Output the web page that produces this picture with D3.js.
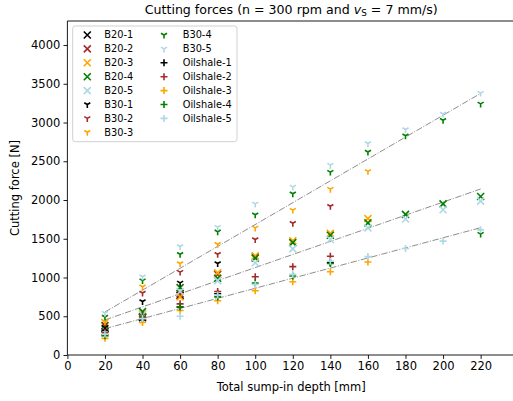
<!DOCTYPE html>
<html>
<head>
<meta charset="utf-8">
<script src="https://cdn.jsdelivr.net/npm/d3@7"></script>
<style>
body { margin: 0; background: #fff; }
svg { display: block; font-family: "DejaVu Sans", sans-serif; }
</style>
</head>
<body>
<div id="chart"></div>
<script>
// sump-in depths [mm], one column per value in every series below (null = no measurement)
const depth = [20, 40, 60, 80, 100, 120, 140, 160, 180, 200, 220];

const b20_1 = [340, 480, 770, null, null, null, null, null, null, null, null];
const b20_2 = [300, 500, 790, 1040, 1265, null, null, null, null, null, null];
const b20_3 = [420, 530, 750, 1060, 1280, 1475, 1570, 1760, null, null, null];
const b20_4 = [380, 560, 870, 990, 1250, 1450, 1545, 1705, 1815, 1950, 2045];
const b20_5 = [280, 520, 820, 960, 1190, 1370, 1490, 1640, 1755, 1875, 1985];
const b30_1 = [360, 690, 930, 1180, null, null, null, null, null, null, null];
const b30_2 = [390, 800, 1070, 1300, 1490, 1700, 1920, null, null, null, null];
const b30_3 = [430, 880, 1180, 1430, 1640, 1870, 2140, 2370, null, null, null];
const b30_4 = [490, 960, 1300, 1590, 1810, 2080, 2360, 2620, 2830, 3030, 3240];
const b30_4b = [null, null, null, null, null, null, null, null, null, null, 1560];
const b30_5 = [540, 1010, 1400, 1650, 1950, 2170, 2450, 2730, 2910, 3110, 3380];
const oil_1 = [320, 470, 620, 790, null, null, 1190, null, null, null, null];
const oil_2 = [290, 500, 660, 820, 1010, 1140, 1275, null, null, null, null];
const oil_3 = [215, 420, 575, 700, 830, 945, 1075, 1200, null, null, null];
const oil_4 = [250, 480, 620, 750, 930, 1020, 1180, null, null, null, null];
const oil_5 = [270, 470, 500, 775, 910, 1040, 1210, 1270, 1375, 1470, 1615];

const seriesNames = ["B20-1", "B20-2", "B20-3", "B20-4", "B20-5",
                     "B30-1", "B30-2", "B30-3", "B30-4", "B30-5",
                     "Oilshale-1", "Oilshale-2", "Oilshale-3", "Oilshale-4", "Oilshale-5"];
const seriesValues = [b20_1, b20_2, b20_3, b20_4, b20_5,
                      b30_1, b30_2, b30_3, b30_4, b30_5,
                      oil_1, oil_2, oil_3, oil_4, oil_5];
const sampleColors = ["black", "#a52a2a", "orange", "green", "lightblue"];

// dash-dot trend lines (B30, B20, Oilshale), value at 20 mm and 220 mm
const trendDepth = [20, 220];
const trendStart = [555, 452, 340];
const trendEnd = [3376, 2142, 1643];

const xTicks = [0, 20, 40, 60, 80, 100, 120, 140, 160, 180, 200, 220];
const yTicks = [0, 500, 1000, 1500, 2000, 2500, 3000, 3500, 4000];

const width = 513, height = 401;
const margin = {top: 21, left: 67.4, bottom: 355, right: 515};

const svg = d3.select("#chart").append("svg")
  .attr("width", width)
  .attr("height", height);

const x = d3.scaleLinear().domain([0, 238.3]).range([margin.left, margin.right]);
const y = d3.scaleLinear().domain([0, 4310]).range([margin.bottom, margin.top]);

// marker shapes like matplotlib "x", "1" (tri_down) and "+"
const r = 3.5;
const markers = {
  x: `M${-r},${-r}L${r},${r}M${-r},${r}L${r},${-r}`,
  tri: `M0,0L0,${r}M0,0L${-0.866 * r},${-0.5 * r}M0,0L${0.866 * r},${-0.5 * r}`,
  plus: `M${-r},0L${r},0M0,${-r}L0,${r}`
};
const markerOf = i => i < 5 ? markers.x : (i < 10 ? markers.tri : markers.plus);

// trend lines
trendStart.forEach((s, i) => {
  svg.append("line")
    .attr("x1", x(trendDepth[0])).attr("y1", y(s))
    .attr("x2", x(trendDepth[1])).attr("y2", y(trendEnd[i]))
    .attr("stroke", "#808080")
    .attr("stroke-width", 0.9)
    .attr("stroke-dasharray", "6.4,1.6,1,1.6");
});

// scatter
const drawSeries = (vals, i) => {
  svg.append("g")
    .selectAll("path")
    .data(depth.map((d, j) => ({d: d, v: vals[j]})).filter(p => p.v != null))
    .join("path")
    .attr("d", markerOf(i))
    .attr("transform", p => `translate(${x(p.d)},${y(p.v)})`)
    .attr("fill", "none")
    .attr("stroke", sampleColors[i % 5])
    .attr("stroke-width", 1.6);
};
seriesValues.forEach((vals, i) => {
  drawSeries(vals, i);
  if (i === 8) drawSeries(b30_4b, 8);
});

// axes
const xAxis = svg.append("g")
  .attr("transform", `translate(0,${margin.bottom})`)
  .call(d3.axisBottom(x).tickValues(xTicks).tickSize(3.9).tickPadding(2.8));
const yAxis = svg.append("g")
  .attr("transform", `translate(${margin.left},0)`)
  .call(d3.axisLeft(y).tickValues(yTicks).tickFormat(d3.format("d")).tickSize(3.9).tickPadding(3.2));
[xAxis, yAxis].forEach(g => {
  g.select(".domain").remove();
  g.selectAll("text").attr("font-size", 11.5).attr("fill", "black")
    .attr("font-family", "DejaVu Sans");
  g.selectAll("line").attr("stroke", "black").attr("stroke-width", 0.9);
});

// spines
svg.append("path")
  .attr("d", `M${margin.right + 5},${margin.top}H${margin.left}V${margin.bottom}H${margin.right + 5}`)
  .attr("fill", "none")
  .attr("stroke", "black")
  .attr("stroke-width", 0.9);

// labels
const title = svg.append("text")
  .attr("x", (margin.left + margin.right) / 2)
  .attr("y", 14)
  .attr("text-anchor", "middle")
  .attr("font-size", 12.6);
title.append("tspan").text("Cutting forces (n = 300 rpm and ");
title.append("tspan").attr("font-style", "italic").text("v");
title.append("tspan").attr("font-size", 8.8).attr("dy", 2.3).text("S");
title.append("tspan").attr("dy", -2.3).text(" = 7 mm/s)");

svg.append("text")
  .attr("x", (margin.left + margin.right) / 2)
  .attr("y", 391)
  .attr("text-anchor", "middle")
  .attr("font-size", 11.5)
  .text("Total sump-in depth [mm]");

svg.append("text")
  .attr("transform", `translate(19,${(margin.top + margin.bottom) / 2}) rotate(-90)`)
  .attr("text-anchor", "middle")
  .attr("font-size", 11.5)
  .text("Cutting force [N]");

// legend
const legend = svg.append("g");
legend.append("rect")
  .attr("x", 72.7).attr("y", 26)
  .attr("width", 164.3).attr("height", 115.7)
  .attr("rx", 2.5)
  .attr("fill", "white").attr("fill-opacity", 0.8)
  .attr("stroke", "#cccccc").attr("stroke-width", 0.9);
seriesNames.forEach((name, i) => {
  const col = i < 8 ? 0 : 1;
  const row = i < 8 ? i : i - 8;
  const cy = 35 + row * 13.9;
  const mx = col === 0 ? 87.3 : 164;
  legend.append("path")
    .attr("d", markerOf(i))
    .attr("transform", `translate(${mx},${cy})`)
    .attr("fill", "none")
    .attr("stroke", sampleColors[i % 5])
    .attr("stroke-width", 1.6);
  legend.append("text")
    .attr("x", col === 0 ? 104.3 : 182.7)
    .attr("y", cy)
    .attr("dy", "0.35em")
    .attr("font-size", 9.8)
    .text(name);
});
</script>
</body>
</html>
